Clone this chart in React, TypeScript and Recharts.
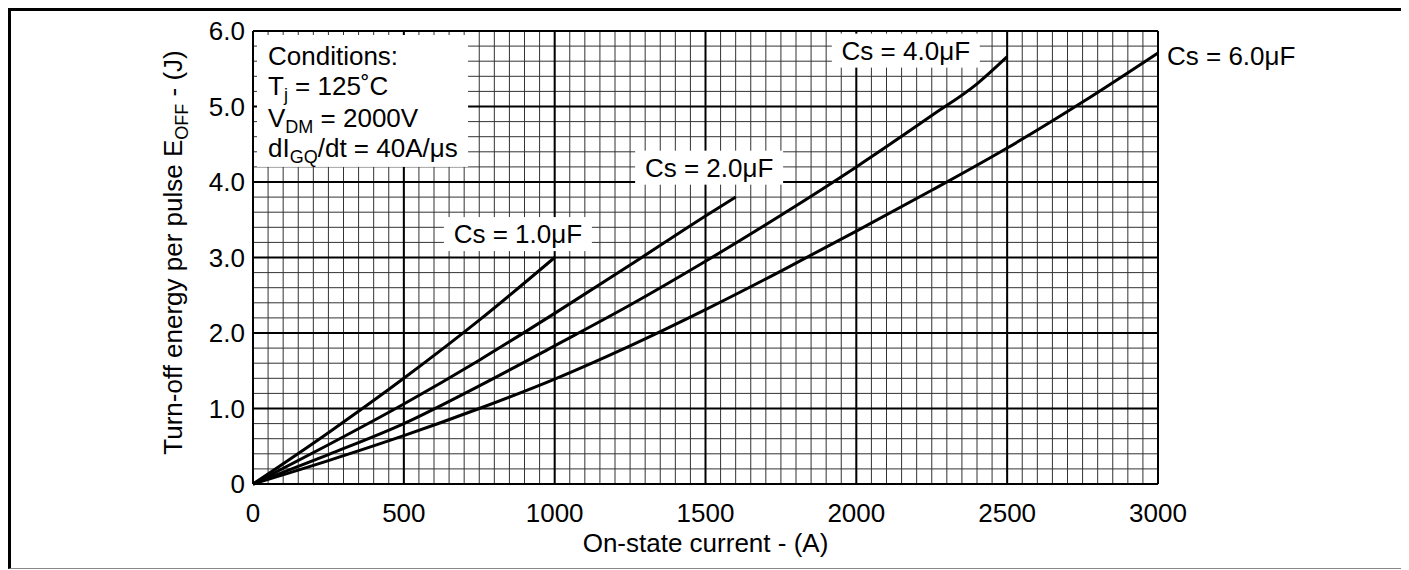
import React from "react";
import {
  LineChart,
  Line,
  XAxis,
  YAxis,
  CartesianGrid,
  ReferenceArea,
  ReferenceDot,
} from "recharts";

const FONT = '"Liberation Sans", Arial, Helvetica, sans-serif';

// axis ticks (major grid) and minor grid values
const xTicks = [0, 500, 1000, 1500, 2000, 2500, 3000];
const yTicks = [0, 1, 2, 3, 4, 5, 6];
const xMinor = Array.from({ length: 61 }, (_, i) => i * 50);
const yMinor = Array.from({ length: 31 }, (_, i) => Math.round(i * 2) / 10);

// curves: on-state current (A) -> Eoff (J)
const cs1Current = [0, 250, 500, 750, 1000];
const cs1Energy = [0, 0.68, 1.4, 2.17, 3.0];

const cs2Current = [0, 250, 500, 750, 1000, 1250, 1500, 1600];
const cs2Energy = [0, 0.52, 1.06, 1.64, 2.26, 2.9, 3.55, 3.8];

const cs4Current = [0, 250, 500, 750, 1000, 1250, 1500, 1750, 2000, 2250, 2400, 2500];
const cs4Energy = [0, 0.39, 0.8, 1.3, 1.83, 2.37, 2.95, 3.56, 4.2, 4.88, 5.3, 5.66];

const cs6Current = [0, 250, 500, 750, 1000, 1250, 1500, 1750, 2000, 2250, 2500, 2750, 3000];
const cs6Energy = [0, 0.31, 0.64, 1.0, 1.39, 1.83, 2.31, 2.82, 3.35, 3.89, 4.45, 5.06, 5.71];

// curve tags: text and where they sit (data units)
const tagText = ["Cs = 1.0μF", "Cs = 2.0μF", "Cs = 4.0μF", "Cs = 6.0μF"];
const tagCurrent = [878, 1512, 2164, 3000];
const tagEnergy = [3.31, 4.19, 5.74, 5.67];

const zip = (a: number[], e: number[]) => a.map((v, i) => ({ a: v, e: e[i] }));
const series = [
  zip(cs1Current, cs1Energy),
  zip(cs2Current, cs2Energy),
  zip(cs4Current, cs4Energy),
  zip(cs6Current, cs6Energy),
];

const txt = { fontFamily: FONT, fontSize: 26, fill: "#000" };

function XTick({ x, y, payload }: any) {
  return (
    <text x={x} y={y + 38} textAnchor="middle" {...txt}>
      {payload.value}
    </text>
  );
}

function YTick({ x, y, payload }: any) {
  const v = Number(payload.value);
  return (
    <text x={x - 8} y={y + 9} textAnchor="end" {...txt}>
      {v === 0 ? "0" : v.toFixed(1)}
    </text>
  );
}

function XTitle({ viewBox }: any) {
  return (
    <text x={viewBox.x + viewBox.width / 2} y={viewBox.y + 68} textAnchor="middle" {...txt}>
      On-state current - (A)
    </text>
  );
}

function YTitle({ viewBox }: any) {
  const cx = viewBox.x + 9;
  const cy = viewBox.y + viewBox.height / 2 - 5;
  return (
    <text x={cx} y={cy} transform={`rotate(-90 ${cx} ${cy})`} textAnchor="middle" {...txt}>
      Turn-off energy per pulse E
      <tspan fontSize={18} dy={6}>OFF</tspan>
      <tspan dy={-6}> - (J)</tspan>
    </text>
  );
}

function ConditionsBox({ x, y, width, height }: any) {
  const tx = x + 15;
  return (
    <g>
      <rect x={x + 4} y={y + 4} width={width - 4} height={height - 4} fill="#fff" />
      <text {...txt}>
        <tspan x={tx} y={y + 34}>Conditions:</tspan>
      </text>
      <text {...txt}>
        <tspan x={tx} y={y + 64}>T</tspan>
        <tspan fontSize={18} dy={6}>j</tspan>
        <tspan dy={-6}> = 125˚C</tspan>
      </text>
      <text {...txt}>
        <tspan x={tx} y={y + 96}>V</tspan>
        <tspan fontSize={18} dy={6}>DM</tspan>
        <tspan dy={-6}> = 2000V</tspan>
      </text>
      <text {...txt}>
        <tspan x={tx} y={y + 126}>dI</tspan>
        <tspan fontSize={18} dy={6}>GQ</tspan>
        <tspan dy={-6}>/dt = 40A/μs</tspan>
      </text>
    </g>
  );
}

function Tag({ cx, cy, text, outside }: any) {
  if (outside) {
    return (
      <text x={cx + 9} y={cy + 9} textAnchor="start" {...txt}>
        {text}
      </text>
    );
  }
  return (
    <g>
      <rect x={cx - 74} y={cy - 17} width={148} height={34} fill="#fff" />
      <text x={cx} y={cy + 9} textAnchor="middle" {...txt}>
        {text}
      </text>
    </g>
  );
}

export default function App() {
  return (
    <div
      style={{
        width: 1396,
        height: 561,
        boxSizing: "border-box",
        borderTop: "3px solid #000",
        borderLeft: "3px solid #000",
        borderRight: "3px solid #222",
        borderBottom: "1px solid #888",
        background: "#fff",
      }}
    >
      <LineChart width={1390} height={555} margin={{ top: 20, right: 243, bottom: 12, left: 162 }}>
        <XAxis
          dataKey="a"
          type="number"
          domain={[0, 3000]}
          ticks={xTicks}
          interval={0}
          height={70}
          tickSize={0}
          tickMargin={0}
          axisLine={false}
          tickLine={false}
          tick={<XTick />}
          label={<XTitle />}
        />
        <YAxis
          dataKey="e"
          type="number"
          domain={[0, 6]}
          ticks={yTicks}
          interval={0}
          width={80}
          tickSize={0}
          tickMargin={0}
          axisLine={false}
          tickLine={false}
          tick={<YTick />}
          label={<YTitle />}
        />
        <CartesianGrid verticalValues={xMinor} horizontalValues={yMinor} stroke="#333" strokeWidth={1} />
        <CartesianGrid verticalValues={xTicks} horizontalValues={yTicks} stroke="#000" strokeWidth={2} />

        <ReferenceArea x1={0} x2={713} y1={4.2} y2={6} shape={(p: any) => <ConditionsBox {...p} />} />

        {series.map((d, i) => (
          <Line
            key={i}
            data={d}
            dataKey="e"
            type="monotone"
            stroke="#000"
            strokeWidth={3}
            dot={false}
            activeDot={false}
            isAnimationActive={false}
          />
        ))}

        {tagText.map((t, i) => (
          <ReferenceDot
            key={t}
            x={tagCurrent[i]}
            y={tagEnergy[i]}
            ifOverflow="visible"
            shape={(p: any) => <Tag {...p} text={t} outside={i === 3} />}
          />
        ))}
      </LineChart>
    </div>
  );
}
